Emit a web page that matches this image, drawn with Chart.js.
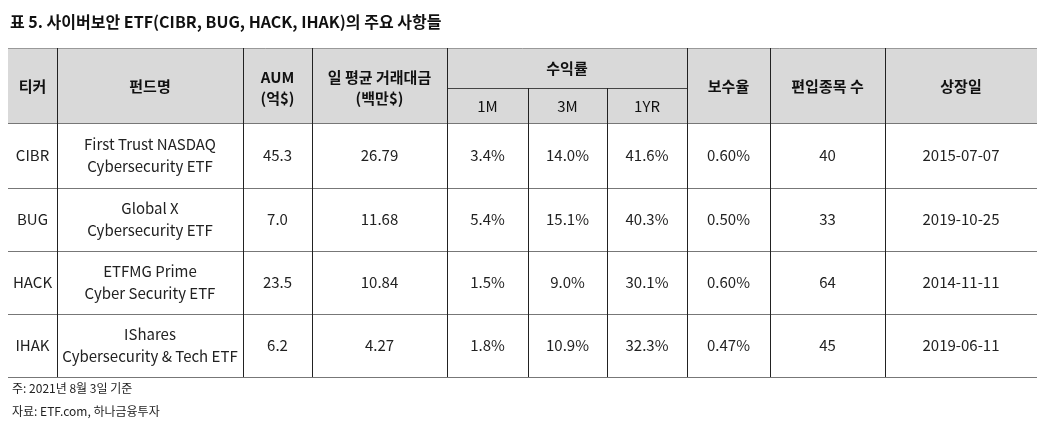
<!DOCTYPE html>
<html><head><meta charset="utf-8">
<script src="https://cdn.jsdelivr.net/npm/chart.js@4"></script>
<style>html,body{margin:0;padding:0;background:#fff}#w{width:1051px;height:436px}</style>
</head><body><div id="w"><canvas id="c"></canvas></div>
<script>
const title = "표 5. 사이버보안 ETF(CIBR, BUG, HACK, IHAK)의 주요 사항들";
const tickers = ["CIBR","BUG","HACK","IHAK"];
const fundNames = [["First Trust NASDAQ","Cybersecurity ETF"],["Global X","Cybersecurity ETF"],["ETFMG Prime","Cyber Security ETF"],["IShares","Cybersecurity & Tech ETF"]];
const aum = ["45.3","7.0","23.5","6.2"];
const volume = ["26.79","11.68","10.84","4.27"];
const ret1M = ["3.4%","5.4%","1.5%","1.8%"];
const ret3M = ["14.0%","15.1%","9.0%","10.9%"];
const ret1Y = ["41.6%","40.3%","30.1%","32.3%"];
const fee = ["0.60%","0.50%","0.60%","0.47%"];
const holdings = ["40","33","64","45"];
const listed = ["2015-07-07","2019-10-25","2014-11-11","2019-06-11"];
const notes = ["주: 2021년 8월 3일 기준","자료: ETF.com, 하나금융투자"];

const colEdges = [8,57,243,312,447,528,607,687,770,885,1037];
const rowEdges = [48,123,188,251,314,377];
const F = "'Noto Sans CJK KR','Noto Sans',sans-serif";

const tablePlugin = {id:'table', afterDraw(chart){
  const ctx=chart.ctx, xs=chart.scales.x, ys=chart.scales.y;
  const X=v=>xs.getPixelForValue(v), Y=v=>ys.getPixelForValue(v);
  ctx.save();
  ctx.fillStyle='#d9d9d9';
  ctx.fillRect(X(colEdges[0]),Y(rowEdges[0]),X(colEdges[10])-X(colEdges[0]),Y(rowEdges[1])-Y(rowEdges[0]));
  ctx.fillStyle='#111'; ctx.font="bold 16px "+F; ctx.textBaseline='middle'; ctx.textAlign='left';
  ctx.fillText(title,X(10),Y(22));
  rowEdges.forEach((r,i)=>{ctx.strokeStyle=i==0?'#999':'#777';ctx.lineWidth=i==0?1:1.2;ctx.beginPath();ctx.moveTo(X(colEdges[0]),Y(r)+0.5);ctx.lineTo(X(colEdges[10]),Y(r)+0.5);ctx.stroke();});
  const mid=88;
  ctx.strokeStyle='#444';ctx.lineWidth=1;
  ctx.beginPath();ctx.moveTo(X(447),Y(mid)+0.5);ctx.lineTo(X(687),Y(mid)+0.5);ctx.stroke();
  for(let i=1;i<10;i++){
    const top=(i==5||i==6)?mid:rowEdges[0];
    ctx.strokeStyle='#222';ctx.beginPath();ctx.moveTo(X(colEdges[i])+0.5,Y(top));ctx.lineTo(X(colEdges[i])+0.5,Y(rowEdges[5]));ctx.stroke();
  }
  const cx=i=>(X(colEdges[i])+X(colEdges[i+1]))/2;
  const txt=(s,x,y)=>ctx.fillText(s,x,y);
  ctx.textAlign='center'; ctx.fillStyle='#111'; ctx.font="bold 15px "+F;
  const hc=Y(86);
  txt("티커",cx(0),hc);txt("펀드명",cx(1),hc);
  txt("AUM",cx(2),Y(77));txt("(억$)",cx(2),Y(98));
  txt("일 평균 거래대금",cx(3),Y(77));txt("(백만$)",cx(3),Y(98));
  txt("수익률",(X(447)+X(687))/2,Y(68));
  ctx.font="15px "+F;
  txt("1M",cx(4),Y(106));txt("3M",cx(5),Y(106));txt("1YR",cx(6),Y(106));
  ctx.font="bold 15px "+F;
  txt("보수율",cx(7),hc);txt("편입종목 수",cx(8),hc);txt("상장일",cx(9),hc);
  ctx.font="15px "+F; ctx.fillStyle='#222';
  const cols=[tickers,null,aum,volume,ret1M,ret3M,ret1Y,fee,holdings,listed];
  tickers.forEach((t,r)=>{
    const yc=(Y(rowEdges[r+1])+Y(rowEdges[r+2]))/2;
    cols.forEach((c,i)=>{
      if(i==1){txt(fundNames[r][0],cx(1),yc-11);txt(fundNames[r][1],cx(1),yc+11);}
      else txt(c[r],cx(i),yc);
    });
  });
  ctx.textAlign='left'; ctx.font="12px "+F; ctx.fillStyle='#222';
  txt(notes[0],X(12),Y(388));txt(notes[1],X(12),Y(411));
  ctx.restore();
}};
new Chart(document.getElementById('c'),{
  type:'scatter',
  data:{datasets:[{data:[],pointRadius:0}]},
  options:{responsive:true,maintainAspectRatio:false,animation:false,
    layout:{padding:0},
    plugins:{legend:{display:false},tooltip:{enabled:false}},
    scales:{x:{type:'linear',min:0,max:1051,display:false},y:{type:'linear',min:0,max:436,reverse:true,display:false}}},
  plugins:[tablePlugin]
});
</script></body></html>
